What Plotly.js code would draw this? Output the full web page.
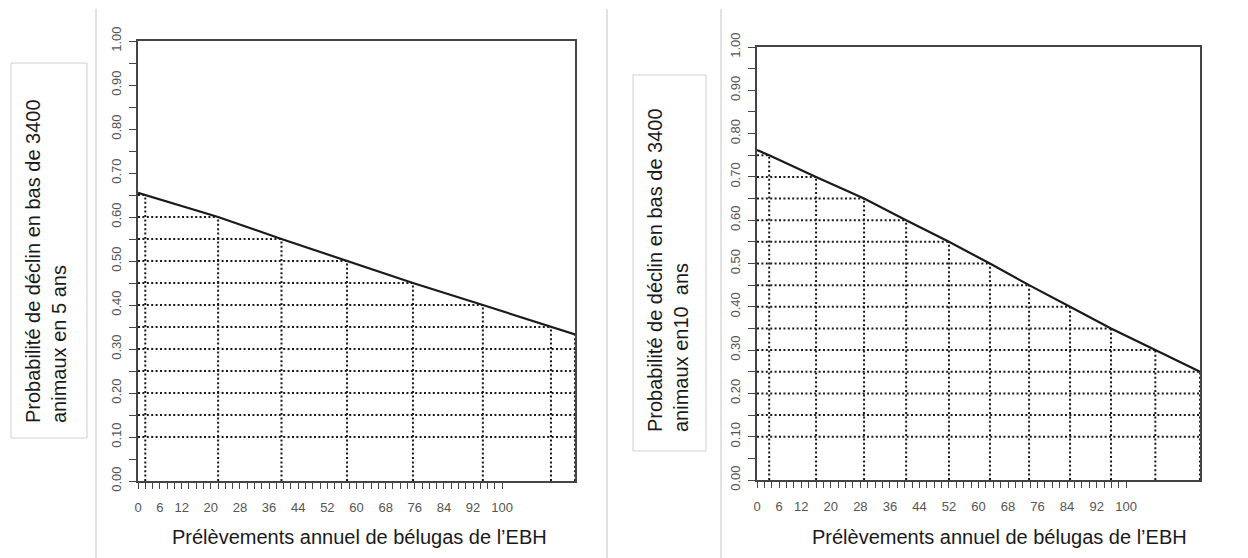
<!DOCTYPE html>
<html><head><meta charset="utf-8">
<script src="https://cdn.plot.ly/plotly-3.0.1.min.js"></script>
<style>html,body{margin:0;padding:0;background:#fff;}#chart{width:1248px;height:558px;}</style>
</head><body><div id="chart"></div>
<script>
// ---- data ----
const xTickLabels = [0, 6, 12, 20, 28, 36, 44, 52, 60, 68, 76, 84, 92, 100];
const yTickLabels = ['0.00','0.10','0.20','0.30','0.40','0.50','0.60','0.70','0.80','0.90','1.00'];

// 5-year decline probability vs annual harvest
const harvest5 = [0, 2, 22, 39.4, 57.4, 75.5, 94.7, 113.4, 120];
const prob5    = [0.655, 0.65, 0.60, 0.55, 0.50, 0.45, 0.40, 0.35, 0.333];
const levels5  = [0.10, 0.15, 0.20, 0.25, 0.30, 0.35, 0.40, 0.45, 0.50, 0.55, 0.60, 0.65];

// 10-year decline probability vs annual harvest
const harvest10 = [0, 3.3, 16.0, 29.0, 40.4, 52.0, 63.1, 73.7, 84.8, 95.9, 107.9, 120];
const prob10    = [0.762, 0.75, 0.70, 0.65, 0.60, 0.55, 0.50, 0.45, 0.40, 0.35, 0.30, 0.25];
const levels10  = [0.10, 0.15, 0.20, 0.25, 0.30, 0.35, 0.40, 0.45, 0.50, 0.55, 0.60, 0.65, 0.70, 0.75];

const xMax = 120;
const titleX = 'Prélèvements annuel de bélugas de l’EBH';
const titleY5 = 'Probabilité de déclin en bas de 3400<br>animaux en 5 ans';
const titleY10 = 'Probabilité de déclin en bas de 3400<br>animaux en10\u00a0 ans';

// ---- helpers ----
function crossX(xs, ys, level) {
  for (let i = 0; i < xs.length - 1; i++) {
    const y0 = ys[i], y1 = ys[i + 1];
    if ((y0 - level) * (y1 - level) <= 0 && y0 !== y1) {
      return xs[i] + (level - y0) * (xs[i + 1] - xs[i]) / (y1 - y0);
    }
  }
  return level < Math.min(...ys) ? xMax : 0;
}
function gridSegments(xs, ys, levels) {
  const gx = [], gy = [];
  levels.forEach(l => { gx.push(0, crossX(xs, ys, l), null); gy.push(l, l, null); });
  xs.forEach((x, i) => { if (x > 0) { gx.push(x, x, null); gy.push(0, ys[i], null); } });
  return { gx, gy };
}

// minor ticks: every 2 harvest units up to 100, every 0.05 in probability
const xMinorVals = []; for (let v = 0; v <= 100; v += 2) xMinorVals.push(v);
const yMinorVals = []; for (let k = 0; k <= 20; k++) yMinorVals.push(+(k * 0.05).toFixed(2));
const yTickVals = yTickLabels.map(Number);

const g5 = gridSegments(harvest5, prob5, levels5);
const g10 = gridSegments(harvest10, prob10, levels10);

const dotStyle = { color: '#1a1a1a', width: 2, dash: '2px,2.4px' };
const traces = [
  { x: g5.gx, y: g5.gy, xaxis: 'x', yaxis: 'y', mode: 'lines', line: dotStyle, connectgaps: false, hoverinfo: 'skip' },
  { x: harvest5, y: prob5, xaxis: 'x', yaxis: 'y', mode: 'lines', line: { color: '#1a1a1a', width: 2.2 } },
  { x: g10.gx, y: g10.gy, xaxis: 'x2', yaxis: 'y2', mode: 'lines', line: dotStyle, connectgaps: false, hoverinfo: 'skip' },
  { x: harvest10, y: prob10, xaxis: 'x2', yaxis: 'y2', mode: 'lines', line: { color: '#1a1a1a', width: 2.2 } }
];

const tickFont = { family: 'Liberation Sans, Arial, sans-serif', size: 13, color: '#555' };
function xAxis(domain, anchor) {
  return { domain, anchor, range: [0, xMax], showgrid: false, zeroline: false,
    showline: true, mirror: true, linecolor: '#444', linewidth: 1.6,
    ticks: 'outside', ticklen: 6, tickcolor: '#444', tickwidth: 1,
    tickmode: 'array', tickvals: xTickLabels, ticktext: xTickLabels.map(String), tickangle: 0,
    minor: { tickmode: 'array', tickvals: xMinorVals, ticks: 'outside', ticklen: 6, tickcolor: '#444', tickwidth: 1, showgrid: false },
    tickfont: tickFont, ticklabelstandoff: 8, fixedrange: true };
}
function yAxis(domain, anchor) {
  return { domain, anchor, range: [0, 1], showgrid: false, zeroline: false,
    showline: true, mirror: true, linecolor: '#444', linewidth: 1.6,
    ticks: 'outside', ticklen: 7, tickcolor: '#444', tickwidth: 1,
    tickmode: 'array', tickvals: yTickVals, ticktext: yTickLabels, tickangle: -90,
    minor: { tickmode: 'array', tickvals: yMinorVals, ticks: 'outside', ticklen: 7, tickcolor: '#444', tickwidth: 1, showgrid: false },
    tickfont: tickFont, ticklabelstandoff: 3, fixedrange: true };
}

const W = 1248, H = 558;
const px = v => v / W, py = v => (H - v) / H;
const sepLine = x => ({ type: 'line', xref: 'paper', yref: 'paper', x0: px(x), x1: px(x), y0: py(9), y1: 0, line: { color: '#c4c4c4', width: 1 } });
const box = (x0, x1, y0, y1) => ({ type: 'rect', xref: 'paper', yref: 'paper', x0: px(x0), x1: px(x1), y0: py(y1), y1: py(y0), line: { color: '#d0d0d0', width: 1 } });
const titleFont = { family: 'Liberation Sans, Arial, sans-serif', size: 20, color: '#1a1a1a' };

const layout = {
  width: W, height: H, margin: { l: 0, r: 0, t: 0, b: 0 },
  paper_bgcolor: '#fff', plot_bgcolor: '#fff', showlegend: false,
  xaxis: xAxis([px(138), px(575)], 'y'),
  yaxis: yAxis([py(481), py(41)], 'x'),
  xaxis2: xAxis([px(757), px(1200)], 'y2'),
  yaxis2: yAxis([py(480), py(47)], 'x2'),
  shapes: [ sepLine(96), sepLine(607), sepLine(721), box(11, 87, 63, 438), box(633, 706, 75, 451) ],
  annotations: [
    { text: titleY5, xref: 'paper', yref: 'paper', x: px(46), y: py(261), xanchor: 'center', yanchor: 'middle', textangle: -90, align: 'left', showarrow: false, font: titleFont },
    { text: titleY10, xref: 'paper', yref: 'paper', x: px(668), y: py(270), xanchor: 'center', yanchor: 'middle', textangle: -90, align: 'left', showarrow: false, font: titleFont },
    { text: titleX, xref: 'paper', yref: 'paper', x: px(360), y: py(537), xanchor: 'center', yanchor: 'middle', showarrow: false, font: titleFont },
    { text: titleX, xref: 'paper', yref: 'paper', x: px(999), y: py(537), xanchor: 'center', yanchor: 'middle', showarrow: false, font: titleFont }
  ]
};

Plotly.newPlot('chart', traces, layout, { displayModeBar: false, staticPlot: true });
</script>
</body></html>
